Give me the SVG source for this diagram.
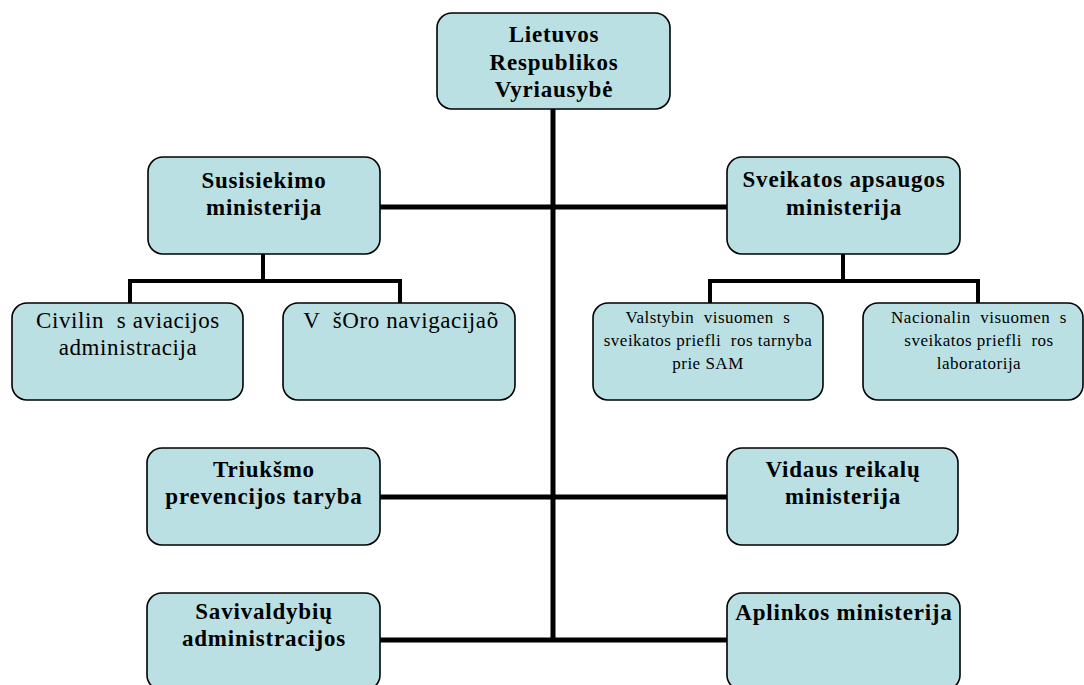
<svg xmlns="http://www.w3.org/2000/svg" width="1084" height="685" viewBox="0 0 1084 685">
<style>
.box{fill:#BBE0E3;stroke:#000;stroke-width:1.6}
text{font-family:'Liberation Serif','DejaVu Serif',serif;fill:#000;text-anchor:middle}
.b{font-weight:bold;font-size:23px;letter-spacing:0.8px}
.r{font-size:23px;letter-spacing:0.6px;white-space:pre}
.s{font-size:17px;letter-spacing:0.5px;white-space:pre}
.c{fill:none;stroke:#000;stroke-width:5}
.c2{fill:none;stroke:#000;stroke-width:4}
</style>
<rect width="1084" height="685" fill="#fff"/>
<g id="connectors">
<path class="c" d="M553,108 V642"/>
<path class="c" d="M380,207 H727"/>
<path class="c" d="M380,497 H727"/>
<path class="c" d="M380,640 H727"/>
<path class="c2" d="M263,254 V281 M130,303 V281 H400 V303"/>
<path class="c2" d="M843,254 V281 M710,303 V281 H978 V303"/>
</g>
<g id="n-vyriausybe">
<rect class="box" x="437" y="13" width="233" height="96" rx="15"/>
<text class="b" x="554" y="42">Lietuvos</text>
<text class="b" x="554" y="70">Respublikos</text>
<text class="b" x="554" y="97">Vyriausybė</text>
</g>
<g id="n-susisiekimo">
<rect class="box" x="148" y="157" width="232" height="97" rx="15"/>
<text class="b" x="264" y="188">Susisiekimo</text>
<text class="b" x="264" y="215">ministerija</text>
</g>
<g id="n-sveikatos">
<rect class="box" x="727" y="157" width="233" height="97" rx="15"/>
<text class="b" x="844" y="187">Sveikatos apsaugos</text>
<text class="b" x="844" y="215">ministerija</text>
</g>
<g id="n-civilines">
<rect class="box" x="12" y="303" width="231" height="97" rx="15"/>
<text class="r" x="128" y="328" xml:space="preserve">Civilin  s aviacijos</text>
<text class="r" x="128" y="355">administracija</text>
</g>
<g id="n-oro">
<rect class="box" x="283" y="303" width="232" height="97" rx="15"/>
<text class="r" x="401" y="328" xml:space="preserve">V  šOro navigacijaõ</text>
</g>
<g id="n-valstybine">
<rect class="box" x="593" y="303" width="230" height="97" rx="15"/>
<text class="s" x="708" y="323" xml:space="preserve">Valstybin  visuomen  s</text>
<text class="s" x="708" y="346" xml:space="preserve">sveikatos priefli  ros tarnyba</text>
<text class="s" x="708" y="369">prie SAM</text>
</g>
<g id="n-nacionaline">
<rect class="box" x="863" y="303" width="220" height="97" rx="15"/>
<text class="s" x="979" y="323" xml:space="preserve">Nacionalin  visuomen  s</text>
<text class="s" x="979" y="346" xml:space="preserve">sveikatos priefli  ros</text>
<text class="s" x="979" y="369">laboratorija</text>
</g>
<g id="n-triuksmo">
<rect class="box" x="147" y="448" width="233" height="97" rx="15"/>
<text class="b" x="264" y="477">Triukšmo</text>
<text class="b" x="264" y="504">prevencijos taryba</text>
</g>
<g id="n-vidaus">
<rect class="box" x="727" y="448" width="231" height="97" rx="15"/>
<text class="b" x="843" y="477">Vidaus reikalų</text>
<text class="b" x="843" y="504">ministerija</text>
</g>
<g id="n-savivaldybiu">
<rect class="box" x="147" y="593" width="233" height="97" rx="15"/>
<text class="b" x="264" y="619">Savivaldybių</text>
<text class="b" x="264" y="646">administracijos</text>
</g>
<g id="n-aplinkos">
<rect class="box" x="727" y="593" width="233" height="97" rx="15"/>
<text class="b" x="844" y="620">Aplinkos ministerija</text>
</g>
</svg>
